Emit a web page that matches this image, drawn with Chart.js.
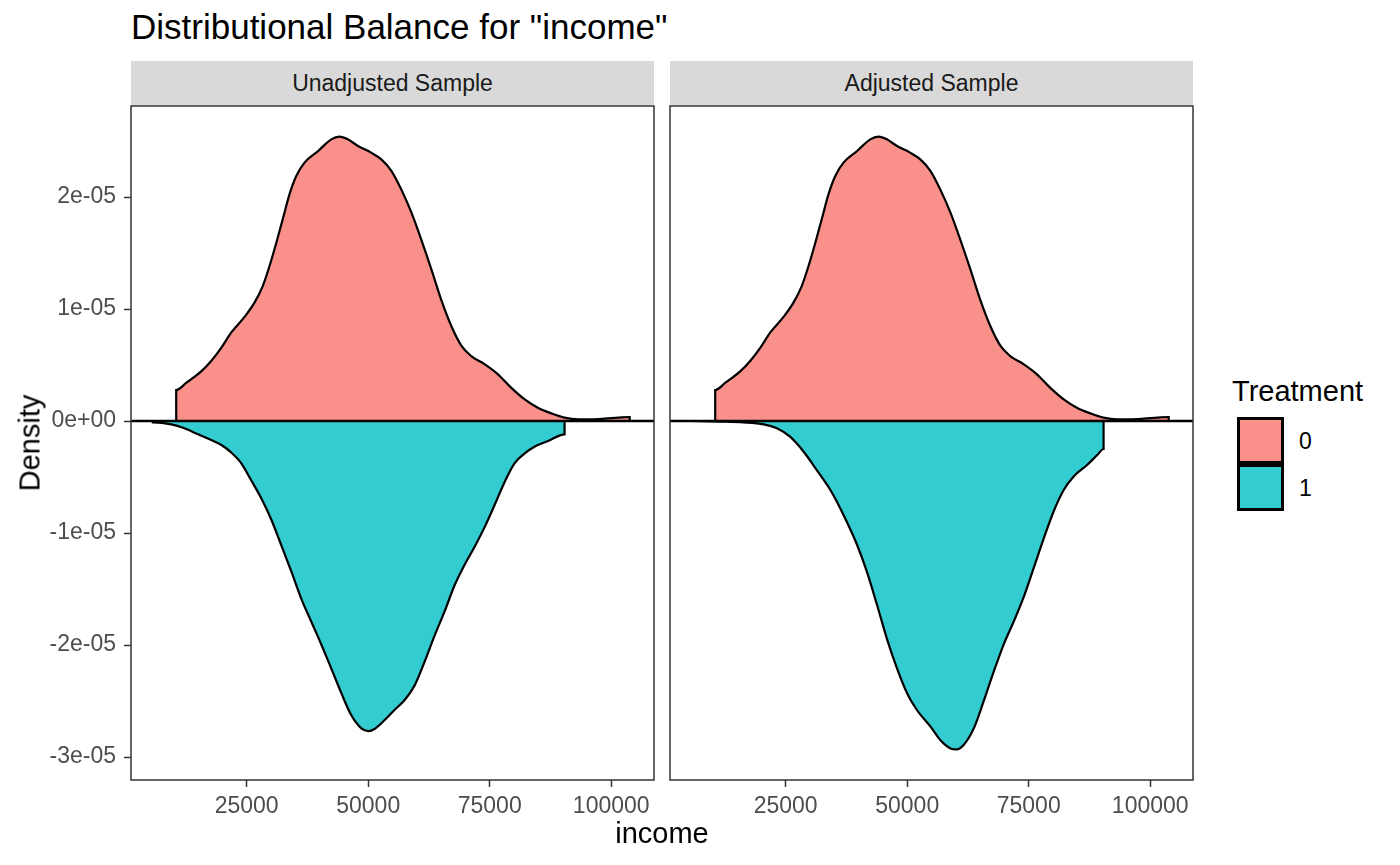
<!DOCTYPE html>
<html>
<head>
<meta charset="utf-8">
<script src="https://cdn.jsdelivr.net/npm/chart.js@4/dist/chart.umd.min.js"></script>
<style>
body { margin: 0; background: #fff; font-family: "Liberation Sans", Arial, sans-serif; }
#page { position: relative; width: 1400px; height: 865px; overflow: hidden; background: #fff; }
.abs { position: absolute; line-height: 1; white-space: nowrap; }
#title { left: 131px; top: 9px; font-size: 35px; color: #000; }
.strip { top: 61px; height: 44px; background: #d9d9d9; color: #1a1a1a; font-size: 23px;
         display: flex; align-items: center; justify-content: center; }
#ytitle { left: 30px; top: 443px; font-size: 29px; transform: translate(-50%, -50%) rotate(-90deg); }
#xtitle { left: 662px; top: 819px; font-size: 29px; transform: translateX(-50%); }
#legtitle { left: 1232px; top: 377px; font-size: 29px; }
.key { left: 1237px; width: 47px; height: 47px; box-sizing: border-box; border: 3px solid #000; }
.keylab { left: 1299px; font-size: 23px; }
.wrap { position: absolute; top: 100px; }
</style>
</head>
<body>
<div id="page">
  <div id="title" class="abs">Distributional Balance for "income"</div>
  <div id="strip0" class="abs strip" style="left:131px;width:523px"></div>
  <div id="strip1" class="abs strip" style="left:670px;width:523px"></div>
  <div class="wrap" style="left:0px"><canvas id="chart0" width="662" height="765"></canvas></div>
  <div class="wrap" style="left:662px"><canvas id="chart1" width="540" height="765"></canvas></div>
  <div id="ytitle" class="abs">Density</div>
  <div id="xtitle" class="abs">income</div>
  <div id="legtitle" class="abs">Treatment</div>
  <div id="key0" class="abs key" style="top:417px"></div>
  <div id="key1" class="abs key" style="top:464px"></div>
  <div id="lab0" class="abs keylab" style="top:430px"></div>
  <div id="lab1" class="abs keylab" style="top:477px"></div>
</div>
<script>
const PANELS = ["Unadjusted Sample", "Adjusted Sample"]
const TREATMENTS = ["0", "1"]
const FILLS = ["rgba(248,118,109,0.8)", "rgba(0,191,196,0.8)"]

const X_MIN = 1200
const X_MAX = 108800
const Y_MIN = -3.205e-5
const Y_MAX = 2.8125e-5
const X_TICKS = [25000, 50000, 75000, 100000]
const Y_TICKS = [-3e-5, -2e-5, -1e-5, 0, 1e-5, 2e-5]

// densities below are read in units of 1e-05
const DENSITY_UNIT = 1e-5

// treatment 0 - same curve in both panels
const t0_x = [10500, 10500, 12600, 15700, 17700, 19800, 21800, 24600, 26600, 28300, 29700, 31100, 32500, 33800, 35200, 36900, 39700, 42400, 44100, 45800, 47900, 50600, 52700, 54800, 56800, 58900, 60900, 63000, 65000, 67100, 69200, 71200, 74000, 76700, 79400, 82200, 84900, 87700, 90400, 93200, 95900, 98700, 101400, 103800, 103800]
const t0_y = [0, 0.277, 0.342, 0.446, 0.536, 0.655, 0.789, 0.932, 1.057, 1.205, 1.384, 1.592, 1.815, 2.024, 2.188, 2.307, 2.411, 2.515, 2.539, 2.515, 2.455, 2.396, 2.336, 2.232, 2.068, 1.860, 1.622, 1.354, 1.086, 0.848, 0.670, 0.580, 0.506, 0.417, 0.298, 0.193, 0.119, 0.068, 0.030, 0.015, 0.015, 0.021, 0.030, 0.036, 0]

// treatment 1, unadjusted (drawn mirrored below zero)
const t1_unadj_x = [5700, 5700, 9500, 12200, 15000, 17700, 19800, 21800, 23900, 25900, 28000, 30100, 32100, 34200, 36200, 38300, 40400, 42400, 44500, 46500, 48600, 50000, 51300, 53400, 55400, 57500, 59600, 61600, 63700, 65700, 67800, 69800, 71900, 74000, 76000, 78100, 80100, 82200, 84200, 87000, 90400, 90400]
const t1_unadj_y = [0, -0.012, -0.030, -0.065, -0.119, -0.170, -0.214, -0.280, -0.378, -0.527, -0.690, -0.884, -1.107, -1.345, -1.583, -1.792, -2.000, -2.208, -2.432, -2.625, -2.744, -2.768, -2.750, -2.670, -2.580, -2.491, -2.357, -2.149, -1.911, -1.702, -1.464, -1.286, -1.122, -0.943, -0.750, -0.542, -0.378, -0.289, -0.229, -0.179, -0.119, 0]

// treatment 1, adjusted
const t1_adj_x = [5700, 11500, 16300, 20500, 23200, 25900, 28700, 31400, 34200, 36900, 39700, 41700, 43800, 45800, 47900, 50000, 52000, 54800, 56800, 58900, 60200, 61600, 63700, 65700, 67800, 69800, 71900, 74000, 76000, 78100, 80100, 82200, 84200, 87000, 89100, 90400, 90400]
const t1_adj_y = [0, -0.005, -0.012, -0.030, -0.065, -0.140, -0.274, -0.438, -0.616, -0.839, -1.107, -1.345, -1.643, -1.940, -2.208, -2.432, -2.580, -2.729, -2.848, -2.923, -2.932, -2.893, -2.744, -2.506, -2.238, -2.000, -1.792, -1.568, -1.315, -1.048, -0.810, -0.616, -0.497, -0.393, -0.304, -0.250, 0]


Chart.defaults.font.family = "'Liberation Sans', Arial, sans-serif"

function pts(xs, ys) {
       return xs.map((x, i) => ({ x: x, y: ys[i] * DENSITY_UNIT }))
}

// R style labels: 2e-05, 0e+00
function sciLabel(v) {
       const [m, e] = Number(v).toExponential(0).split("e")
       const sign = e[0] === "-" ? "-" : "+"
       return m + "e" + sign + e.replace(/[+-]/, "").padStart(2, "0")
}

const panelBorder = {
       id: "panelBorder",
       afterDraw(chart) {
              const { ctx, chartArea: a } = chart
              ctx.save()
              ctx.strokeStyle = "#333"
              ctx.lineWidth = 1.5
              ctx.strokeRect(a.left, a.top, a.right - a.left, a.bottom - a.top)
              ctx.restore()
       }
}

function densitySet(data, fill) {
       return {
              data: data,
              backgroundColor: fill,
              borderColor: "#000",
              borderWidth: 2.2,
              fill: "origin",
              pointRadius: 0,
              cubicInterpolationMode: "monotone",
              order: 1
       }
}

function drawPanel(i, t1x, t1y, showY, pad) {

       document.getElementById("strip" + i).textContent = PANELS[i]

       new Chart(document.getElementById("chart" + i), {
              type: "line",
              data: {
                     datasets: [
                            densitySet(pts(t0_x, t0_y), FILLS[0]),
                            densitySet(pts(t1x, t1y), FILLS[1]),
                            {
                                   data: [{ x: X_MIN, y: 0 }, { x: X_MAX, y: 0 }],
                                   borderColor: "#000",
                                   borderWidth: 2.6,
                                   fill: false,
                                   pointRadius: 0,
                                   order: 0
                            }
                     ]
              },
              options: {
                     responsive: false,
                     animation: false,
                     events: [],
                     layout: { padding: pad },
                     plugins: {
                            legend: { display: false },
                            tooltip: { enabled: false }
                     },
                     scales: {
                            x: {
                                   type: "linear",
                                   min: X_MIN,
                                   max: X_MAX,
                                   afterBuildTicks: s => { s.ticks = X_TICKS.map(v => ({ value: v })) },
                                   afterFit: s => { s.height = 85; s.paddingLeft = 0; s.paddingRight = 0 },
                                   border: { display: false },
                                   grid: { drawOnChartArea: false, tickLength: 7, tickColor: "#333", tickWidth: 1.5 },
                                   ticks: {
                                          color: "#4d4d4d",
                                          font: { size: 23 },
                                          padding: 6,
                                          maxRotation: 0,
                                          autoSkip: false,
                                          callback: v => String(v)
                                   }
                            },
                            y: {
                                   display: showY,
                                   min: Y_MIN,
                                   max: Y_MAX,
                                   afterBuildTicks: s => { s.ticks = Y_TICKS.map(v => ({ value: v })) },
                                   afterFit: s => { s.width = showY ? 131 : 0; s.paddingTop = 0; s.paddingBottom = 0 },
                                   border: { display: false },
                                   grid: { drawOnChartArea: false, tickLength: 7, tickColor: "#333", tickWidth: 1.5 },
                                   ticks: {
                                          color: "#4d4d4d",
                                          font: { size: 23 },
                                          padding: 8,
                                          autoSkip: false,
                                          callback: sciLabel
                                   }
                            }
                     }
              },
              plugins: [panelBorder]
       })
}

drawPanel(0, t1_unadj_x, t1_unadj_y, true, { left: 0, top: 6, right: 8, bottom: 0 })
drawPanel(1, t1_adj_x, t1_adj_y, false, { left: 8, top: 6, right: 9, bottom: 0 })

TREATMENTS.forEach((t, i) => {
       document.getElementById("key" + i).style.background = FILLS[i]
       document.getElementById("lab" + i).textContent = t
})
</script>
</body>
</html>
